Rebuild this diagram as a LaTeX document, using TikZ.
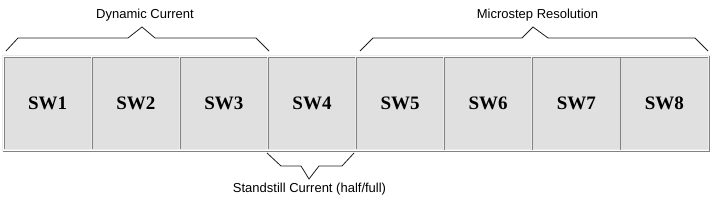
\documentclass[tikz,border=0pt]{standalone}
\usepackage{fontspec}
\setmainfont{Liberation Serif}
\setsansfont{Liberation Sans}
\definecolor{cellfill}{RGB}{224,224,224}
\definecolor{darkedge}{RGB}{130,130,130}
\definecolor{lightedge}{RGB}{235,235,235}
\definecolor{braceline}{RGB}{30,30,30}
\begin{document}
\begin{tikzpicture}[x=1pt,y=-1pt,
  cell/.style={fill=cellfill, draw=none, minimum width=87pt, minimum height=92pt,
    inner sep=0pt, anchor=north west, font=\fontsize{19}{19}\selectfont\bfseries},
  brace/.style={draw=braceline, line width=0.8pt, line join=miter},
  lab/.style={font=\sffamily\fontsize{13}{13}\selectfont, inner sep=0pt}]
\useasboundingbox (0,0) rectangle (712,205);
% outer table frame (outset)
\draw[lightedge, line width=1pt] (2.5,151.5) -- (2.5,56) -- (709.5,56);
\draw[darkedge, line width=1pt] (2.5,151.5) -- (709.5,151.5) -- (709.5,56);
% cells
\foreach \i/\t in {1/SW1,2/SW2,3/SW3,4/SW4,5/SW5,6/SW6,7/SW7,8/SW8}{
  \node[cell] (sw\i) at ({4+88.1*(\i-1)},57.5) {\t};
  \draw[darkedge, line width=1pt] (sw\i.south west) -- (sw\i.north west) -- (sw\i.north east);
  \draw[lightedge, line width=1pt] (sw\i.north east) -- (sw\i.south east) -- (sw\i.south west);
}
% braces
\draw[brace] (6,51) -- (18,38) -- (128,38) -- (142,27) -- (155,38) -- (256,38) -- (269,51);
\draw[brace] (360,51) -- (373,38) -- (522,38) -- (533,27) -- (548,38) -- (695,38) -- (708,51);
\draw[brace] (267,153) -- (281,166) -- (301,166) -- (309,179) -- (319,166) -- (342,166) -- (354,153);
% labels
\node[lab] (dyn) at (145,15) {Dynamic Current};
\node[lab] (micro) at (537.5,15) {Microstep Resolution};
\node[lab] (stand) at (309.5,189) {Standstill Current (half/full)};
\end{tikzpicture}
\end{document}
